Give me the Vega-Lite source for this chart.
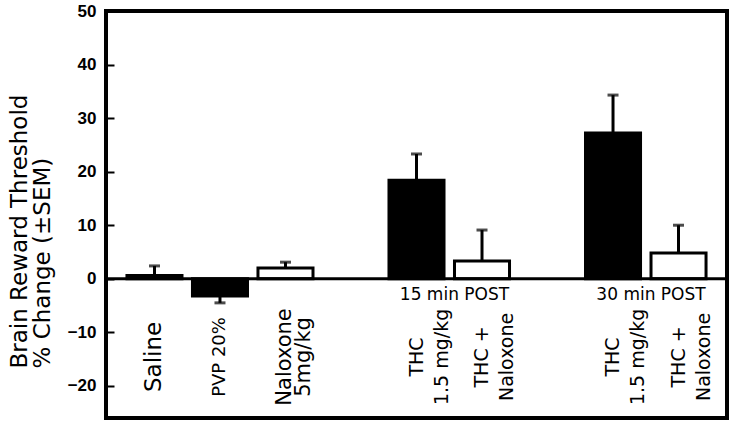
{
  "$schema": "https://vega.github.io/schema/vega-lite/v6.json",
  "width": 621,
  "height": 407,
  "autosize": {"type": "none"},
  "padding": {"left": 106, "top": 11, "right": 4, "bottom": 5},
  "background": "white",
  "config": {"view": {"stroke": "black", "strokeWidth": 4}, "font": "DejaVu Sans"},
  "datasets": {
    "bars": [
      {"id": "saline", "mean": 0.6, "upper": 2.4, "naloxone": "no"},
      {"id": "pvp", "mean": -3.2, "upper": -4.5, "naloxone": "no"},
      {"id": "nal", "mean": 2.0, "upper": 3.1, "naloxone": "yes"},
      {"id": "thc15", "mean": 18.4, "upper": 23.3, "naloxone": "no"},
      {"id": "thcn15", "mean": 3.3, "upper": 9.1, "naloxone": "yes"},
      {"id": "thc30", "mean": 27.2, "upper": 34.3, "naloxone": "no"},
      {"id": "thcn30", "mean": 4.8, "upper": 10.0, "naloxone": "yes"}
    ],
    "labels": [
      {"id": "saline", "text": "Saline"},
      {"id": "pvp", "text": "PVP 20%"},
      {"id": "nal", "text": "Naloxone\n5mg/kg"},
      {"id": "thc15", "text": "THC\n1.5 mg/kg"},
      {"id": "thcn15", "text": "THC +\nNaloxone"},
      {"id": "thc30", "text": "THC\n1.5 mg/kg"},
      {"id": "thcn30", "text": "THC +\nNaloxone"}
    ],
    "post": [
      {"id": "thcn15", "text": "15 min POST"},
      {"id": "thcn30", "text": "30 min POST"}
    ]
  },
  "encoding": {
    "x": {
      "field": "id",
      "type": "nominal",
      "scale": {
        "domain": ["saline", "pvp", "nal", "gap1", "thc15", "thcn15", "gap2", "thc30", "thcn30"],
        "paddingInner": 0.16,
        "paddingOuter": 0.32
      },
      "axis": null
    }
  },
  "layer": [
    {
      "data": {"name": "bars"},
      "mark": {"type": "bar", "stroke": "black", "strokeWidth": 3},
      "encoding": {
        "y": {
          "field": "mean",
          "type": "quantitative",
          "scale": {"domain": [-26, 50], "nice": false, "zero": false},
          "axis": {
            "values": [-20, -10, 0, 10, 20, 30, 40, 50],
            "title": ["Brain Reward  Threshold", "% Change (±SEM)"],
            "offset": -8,
            "domain": false,
            "labelFont": "Liberation Sans",
            "labelFontWeight": "bold",
            "labelFontSize": 17,
            "labelColor": "black",
            "labelPadding": 10,
            "labelFlush": false,
            "tickColor": "black",
            "tickSize": 8,
            "tickWidth": 2,
            "grid": false,
            "titleFont": "DejaVu Sans",
            "titleFontSize": 23,
            "titleFontWeight": "normal",
            "titleColor": "black",
            "titleAngle": 270,
            "titleAlign": "left",
            "titleBaseline": "top",
            "titleX": -106,
            "titleY": 357,
            "titleLineHeight": 23
          }
        },
        "fill": {
          "field": "naloxone",
          "type": "nominal",
          "scale": {"domain": ["no", "yes"], "range": ["black", "white"]},
          "legend": null
        }
      }
    },
    {
      "data": {"values": [{}]},
      "mark": {"type": "rule", "color": "black", "strokeWidth": 3},
      "encoding": {"x": null, "y": {"datum": 0, "type": "quantitative"}}
    },
    {
      "data": {"name": "bars"},
      "mark": {"type": "rule", "color": "black", "strokeWidth": 3},
      "encoding": {
        "y": {"field": "mean", "type": "quantitative"},
        "y2": {"field": "upper"}
      }
    },
    {
      "data": {"name": "bars"},
      "mark": {"type": "tick", "orient": "horizontal", "size": 11, "thickness": 3, "color": "black"},
      "encoding": {"y": {"field": "upper", "type": "quantitative"}}
    },
    {
      "data": {"name": "labels"},
      "transform": [{"filter": {"field": "id", "equal": "saline"}}],
      "mark": {"type": "text", "angle": 270, "align": "center", "baseline": "middle", "fontSize": 23, "color": "black", "lineBreak": "\n"},
      "encoding": {"y": {"datum": -14.6, "type": "quantitative"}, "text": {"field": "text"}}
    },
    {
      "data": {"name": "labels"},
      "transform": [{"filter": {"field": "id", "equal": "pvp"}}],
      "mark": {"type": "text", "angle": 270, "align": "center", "baseline": "middle", "fontSize": 18, "color": "black", "lineBreak": "\n"},
      "encoding": {"y": {"datum": -14.6, "type": "quantitative"}, "text": {"field": "text"}}
    },
    {
      "data": {"name": "labels"},
      "transform": [{"filter": {"field": "id", "equal": "nal"}}],
      "mark": {"type": "text", "angle": 270, "align": "center", "baseline": "middle", "fontSize": 21, "lineHeight": 19, "color": "black", "lineBreak": "\n"},
      "encoding": {"y": {"datum": -14.6, "type": "quantitative"}, "text": {"field": "text"}}
    },
    {
      "data": {"name": "labels"},
      "transform": [{"filter": {"field": "id", "oneOf": ["thc15", "thcn15", "thc30", "thcn30"]}}],
      "mark": {"type": "text", "angle": 270, "align": "center", "baseline": "middle", "fontSize": 19, "lineHeight": 25, "color": "black", "lineBreak": "\n"},
      "encoding": {"y": {"datum": -14.6, "type": "quantitative"}, "text": {"field": "text"}}
    },
    {
      "data": {"name": "post"},
      "mark": {"type": "text", "align": "center", "baseline": "middle", "fontSize": 17, "color": "black"},
      "encoding": {
        "x": {"field": "id", "type": "nominal", "bandPosition": 0},
        "y": {"datum": -3, "type": "quantitative"},
        "text": {"field": "text"}
      }
    }
  ]
}
